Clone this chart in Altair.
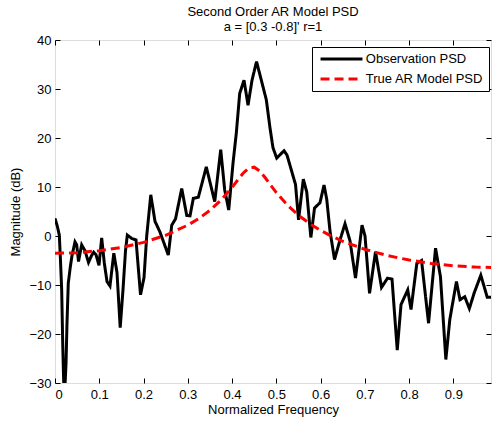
import altair as alt
import pandas as pd

# ---- data ----
obs_freq = [0.000, 0.0052, 0.0097, 0.0124, 0.0151, 0.0174, 0.0208, 0.0249, 0.0271, 0.0300,
            0.0346, 0.0384, 0.0452, 0.0490, 0.0531, 0.0603, 0.0678, 0.0757, 0.0825, 0.0874,
            0.0926, 0.0994, 0.1055, 0.1114, 0.1175, 0.1242, 0.1329, 0.1401, 0.1473, 0.1536,
            0.1593, 0.1634, 0.1733, 0.1830, 0.1932, 0.2011, 0.2072, 0.2164, 0.2259, 0.2372,
            0.2560, 0.2637, 0.2723, 0.2863, 0.2976, 0.3050, 0.3125, 0.3238, 0.3418, 0.3608,
            0.3744, 0.3834, 0.3925, 0.4022, 0.4096, 0.4173, 0.4270, 0.4361, 0.4451, 0.4553,
            0.4661, 0.4774, 0.4858, 0.4925, 0.5009, 0.5174, 0.5242, 0.5434, 0.5502, 0.5610,
            0.5687, 0.5780, 0.5863, 0.5987, 0.6078, 0.6139, 0.6213, 0.6315, 0.6439, 0.6552,
            0.6665, 0.6789, 0.6936, 0.7004, 0.7106, 0.7241, 0.7377, 0.7512, 0.7614, 0.7732,
            0.7817, 0.7969, 0.8043, 0.8174, 0.8281, 0.8439, 0.8597, 0.8708, 0.8830, 0.8920,
            0.9069, 0.9150, 0.9257, 0.9361, 0.9471, 0.9620, 0.9765, 0.9862]
obs_db = [3.6, 2.0, 0.2, -5.0, -11.0, -21.8, -34.0, -26.0, -17.8, -9.6,
          -6.3, -4.0, -1.2, -1.8, -5.2, -1.8, -3.0, -5.4, -4.0, -3.3,
          -3.8, -6.0, -0.4, -5.5, -9.3, -10.2, -3.5, -7.5, -18.7, -11.0,
          -3.0, 0.2, -0.5, -0.8, -12.0, -8.5, 0.0, 8.4, 3.0, 0.8,
          -3.9, 2.2, 3.5, 9.7, 4.2, 4.1, 7.7, 7.9, 14.1, 7.0,
          17.6, 9.4, 5.3, 14.9, 21.0, 29.1, 31.8, 26.7, 31.8, 35.6,
          31.8, 27.8, 22.0, 18.0, 15.9, 17.4, 16.5, 10.5, 3.3, 11.6,
          9.0, -0.3, 5.7, 6.8, 10.4, 7.5, 1.0, -4.8, -0.8, 2.5,
          -1.0, -8.6, 2.2, 0.0, -11.7, -3.2, -10.5, -8.6, -8.8, -23.3,
          -14.0, -11.0, -15.0, -5.6, -5.0, -17.8, -2.5, -8.3, -25.2, -17.0,
          -9.3, -13.0, -12.4, -14.8, -11.6, -8.0, -12.5, -12.5]

ar_freq = [0.0, 0.05, 0.1, 0.15, 0.2, 0.25, 0.3, 0.325, 0.35, 0.375, 0.4, 0.4125,
           0.425, 0.4375, 0.45, 0.4625, 0.475, 0.4875, 0.5, 0.525, 0.55, 0.575, 0.6,
           0.625, 0.65, 0.7, 0.75, 0.8, 0.85, 0.9, 0.95, 0.99]
ar_db = [-3.52, -3.40, -3.00, -2.33, -1.31, 0.15, 2.21, 3.57, 5.24, 7.32, 9.92, 11.38,
         12.81, 13.86, 14.05, 13.25, 11.88, 10.34, 8.86, 6.30, 4.23, 2.55, 1.14,
         -0.05, -1.07, -2.72, -3.97, -4.91, -5.60, -6.08, -6.35, -6.44]

series_names = ["Observation PSD", "True AR Model PSD"]
x_ticks = [0, 0.1, 0.2, 0.3, 0.4, 0.5, 0.6, 0.7, 0.8, 0.9]
y_ticks = [-30, -20, -10, 0, 10, 20, 30, 40]

df = pd.concat([
    pd.DataFrame({"freq": obs_freq, "db": obs_db, "series": series_names[0], "order": range(len(obs_freq))}),
    pd.DataFrame({"freq": ar_freq, "db": ar_db, "series": series_names[1], "order": range(len(ar_freq))}),
], ignore_index=True)

FONT = "Liberation Sans"
xscale = alt.Scale(domain=[0, 0.985], nice=False, zero=False)
yscale = alt.Scale(domain=[-30, 40], nice=False, zero=False)

common_axis = dict(domain=False, grid=False, ticks=True, tickSize=5, tickColor="black",
                   tickWidth=1, offset=-5, labelFont=FONT, labelFontSize=13,
                   labelColor="black", titleFont=FONT, titleFontSize=13,
                   titleColor="black", titleFontWeight="normal")

legend = alt.Legend(title=None, orient="none", legendX=257, legendY=7,
                    symbolType="M-4,0H4", symbolSize=110,
                    symbolStrokeWidth=3, symbolOffset=17.5,
                    labelOffset=17.3, labelFont=FONT, labelFontSize=13,
                    labelColor="black", strokeColor="black",
                    fillColor="white", padding=5, rowPadding=6)

lines = alt.Chart(df).mark_line(strokeWidth=3, clip=True).encode(
    x=alt.X("freq:Q", scale=xscale,
            axis=alt.Axis(orient="bottom", values=x_ticks, format="~g", labelPadding=5,
                          titlePadding=2, title="Normalized Frequency", **common_axis)),
    y=alt.Y("db:Q", scale=yscale,
            axis=alt.Axis(orient="left", values=y_ticks, labelPadding=4,
                          titlePadding=6, title="Magnitude (dB)", **common_axis)),
    color=alt.Color("series:N",
                    scale=alt.Scale(domain=series_names, range=["black", "red"]),
                    legend=legend),
    strokeDash=alt.StrokeDash("series:N",
                              scale=alt.Scale(domain=series_names, range=[[1, 0], [9, 5]]),
                              legend=legend),
    order="order:Q",
)

frame_axes = alt.Chart(df).mark_point(opacity=0).encode(
    x=alt.X("freq:Q", scale=xscale,
            axis=alt.Axis(orient="top", values=x_ticks, labels=False, title=None,
                          **common_axis)),
    y=alt.Y("db:Q", scale=yscale,
            axis=alt.Axis(orient="right", values=y_ticks, labels=False, title=None,
                          **common_axis)),
)

chart = alt.layer(lines, frame_axes).resolve_axis(
    x="independent", y="independent"
).properties(
    width=436, height=343,
    title=alt.TitleParams(text=["Second Order AR Model PSD", "a = [0.3 -0.8]' r=1"],
                          font=FONT, fontSize=13, fontWeight="normal", color="black",
                          lineHeight=15, offset=0, anchor="middle"),
    autosize=alt.AutoSizeParams(type="none"),
    padding={"left": 55, "top": 40, "right": 1, "bottom": 40},
).configure_view(stroke="black", strokeWidth=1).configure(background="white")

chart.save("out.html", embed_options={"renderer": "svg", "actions": False})
